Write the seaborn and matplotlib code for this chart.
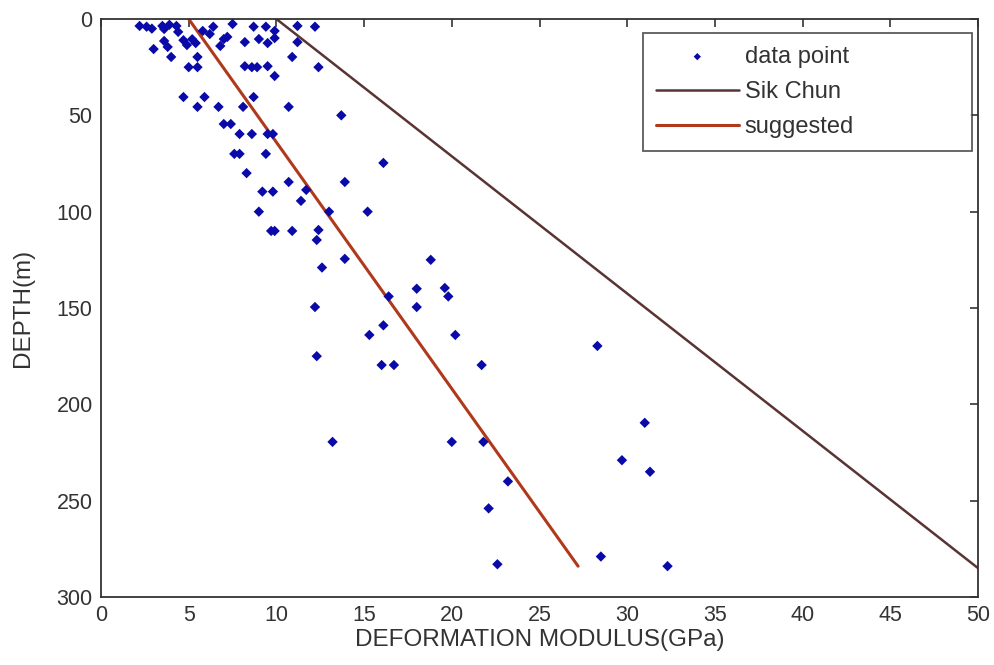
import numpy as np
import pandas as pd
import matplotlib
matplotlib.use("Agg")
import matplotlib.pyplot as plt
import seaborn as sns

# measured points: deformation modulus (GPa) vs depth (m)
modulus = [2.2, 2.6, 2.9, 3.5, 3.6, 3.9, 4.3, 4.4, 5.8, 6.2, 6.4, 7.5, 7.0, 6.8, 7.2,
           8.2, 8.7, 9.4, 9.9, 9.0, 9.5, 9.9, 11.2, 12.2, 11.2, 10.9, 12.4, 3.6, 3.8,
           3.0, 4.0, 4.7, 4.9, 5.2, 5.4, 5.5, 5.0, 5.5, 8.2, 8.6, 8.9, 9.5, 9.9,
           4.7, 5.5, 5.9, 6.7, 8.1, 8.7, 10.7, 13.7,
           7.0, 7.4, 7.9, 8.6, 9.5, 9.8, 7.6, 7.9, 9.4, 16.1, 8.3, 10.7, 13.9, 9.2,
           9.8, 11.7, 11.4, 9.0, 13.0, 15.2, 9.7, 9.9, 10.9, 12.4, 12.3, 13.9, 12.6,
           18.0, 18.8,
           12.2, 15.3, 16.1, 16.4, 18.0, 19.6, 19.8, 20.2, 12.3, 16.0, 16.7, 21.7,
           13.2, 20.0, 21.8, 22.1, 22.6, 28.3, 31.0, 29.7, 31.3, 23.2, 28.5, 32.3]
depth = [3.6, 4.0, 5.0, 3.6, 5.2, 3.0, 3.6, 6.7, 6.2, 7.8, 4.0, 2.6, 10.4, 14.0, 9.3,
         12.0, 4.0, 4.0, 6.2, 10.4, 12.5, 9.9, 3.6, 4.0, 12.0, 19.7, 25.0, 11.4, 14.5,
         15.6, 19.7, 11.0, 13.5, 10.5, 12.5, 19.7, 25.0, 25.0, 24.5, 25.0, 25.0, 24.5, 29.6,
         40.5, 45.6, 40.5, 45.6, 45.6, 40.5, 45.6, 50.0,
         54.5, 54.5, 59.7, 59.7, 59.7, 59.7, 70.0, 70.0, 70.0, 74.7, 80.0, 84.6, 84.6, 89.6,
         89.6, 88.7, 94.4, 100.0, 100.0, 100.0, 110.0, 110.0, 110.0, 109.5, 114.7, 124.5, 129.0,
         140.0, 125.0,
         149.5, 164.0, 159.0, 144.0, 149.5, 139.6, 144.0, 164.0, 175.0, 179.6, 179.6, 179.6,
         219.5, 219.5, 219.5, 254.0, 283.0, 169.7, 209.6, 229.0, 235.0, 240.0, 279.0, 284.0]

# fitted relations
sik_chun_x = [10, 50]
sik_chun_depth = [0, 285]
suggested_x = [5, 27.2]
suggested_depth = [0, 284]

pts = pd.DataFrame({"modulus": modulus, "depth": depth})

sns.set_style("white")
plt.rcParams['font.family'] = ['Liberation Sans', 'DejaVu Sans']

fig = plt.figure(figsize=(9.94, 6.65), dpi=100)
ax = fig.add_axes([101 / 994, 1 - 597 / 665, 877 / 994, 578 / 665])

sns.scatterplot(data=pts, x="modulus", y="depth", marker="D", s=28, color="#0a0aa8",
                edgecolor="none", label="data point", ax=ax, zorder=3)
sns.lineplot(x=sik_chun_x, y=sik_chun_depth, color="#5a3434", lw=1.8, label="Sik Chun", ax=ax)
sns.lineplot(x=suggested_x, y=suggested_depth, color="#b0391c", lw=2.2, label="suggested", ax=ax)

ax.set_xlim(0, 50)
ax.set_ylim(300, 0)
ax.set_xticks(np.arange(0, 51, 5))
ax.set_yticks(np.arange(0, 301, 50))
ax.tick_params(direction="in", length=6, width=1.2, labelsize=15.5, top=True, right=True,
               labelcolor="#333333", color="#333333", pad=6)
for sp in ax.spines.values():
    sp.set_color("#333333")
    sp.set_linewidth(1.3)

ax.set_xlabel("DEFORMATION MODULUS(GPa)", fontsize=17.5, color="#333333", labelpad=2)
ax.set_ylabel("DEPTH(m)", fontsize=17.5, color="#333333", labelpad=16)

leg = ax.legend(loc="upper left", bbox_to_anchor=(0.618, 0.777, 0.375, 0.199), mode="expand",
                fontsize=17, frameon=True, fancybox=False, edgecolor="#333333",
                borderaxespad=0, handlelength=3.5, handletextpad=0.25,
                labelspacing=0.55, borderpad=0.55, markerscale=0.7)
leg.get_frame().set_linewidth(1.3)
for t in leg.get_texts():
    t.set_color("#333333")

fig.savefig("out.png", dpi=100)
